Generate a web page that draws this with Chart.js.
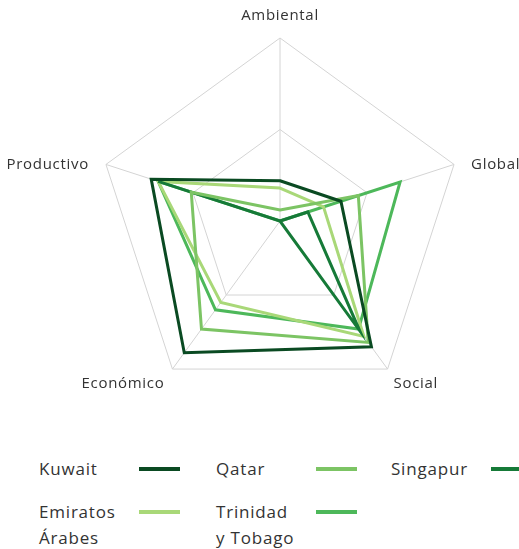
<!DOCTYPE html>
<html>
<head>
<meta charset="utf-8">
<script src="https://cdn.jsdelivr.net/npm/chart.js@4"></script>
<style>
  body { margin: 0; background: #fff; font-family: "Open Sans", sans-serif; color: #333; overflow: hidden; }
  #wrap { position: relative; width: 519px; height: 405px; }
  #legend { position: absolute; left: 39px; top: 456px; width: 520px; display: grid;
            grid-template-columns: 177px 175px 168px; row-gap: 17px; }
  .item { display: flex; align-items: flex-start; font-size: 17px; line-height: 26px; letter-spacing: 0.8px; }
  .item span.txt { width: 86px; margin-right: 14px; flex: none; }
  .item span.swatch { display: inline-block; width: 41px; height: 4px; margin-top: 11px; flex: none; }
</style>
</head>
<body>
<div id="wrap"><canvas id="radar"></canvas></div>
<div id="legend"></div>
<script>
// ejes del radar
const ejes = ['Ambiental', 'Global', 'Social', 'Económico', 'Productivo'];

// valores por país (0-100)
const kuwait   = [22, 35, 85, 89, 74];
const qatar    = [6, 45, 82, 73, 51];
const singapur = [0, 16, 74, 0, 70];
const emiratos = [18, 25, 78, 55, 70];
const trinidad = [0, 69, 73, 60, 70];

const paises = ['Kuwait', 'Qatar', 'Singapur', 'Emiratos Árabes', 'Trinidad y Tobago'];
const colores = ['#0a4a22', '#7cc464', '#167a38', '#a9d878', '#4db85a'];
const series = [kuwait, qatar, singapur, emiratos, trinidad];

// etiquetas de los ejes dibujadas a mano junto a cada vertice
const etiquetasEjes = {
    id: 'etiquetasEjes',
    afterDraw(chart) {
        const scale = chart.scales.r;
        const c = chart.ctx;
        // [desplazamiento x, desplazamiento y, alineacion]
        const ajustes = [[0, -22, 'center'], [17, 0, 'left'], [6, 15, 'left'], [-8, 15, 'right'], [-17, 0, 'right']];
        c.save();
        c.font = '15px "Open Sans"';
        c.letterSpacing = '0.7px';
        c.fillStyle = '#333';
        c.textBaseline = 'middle';
        chart.data.labels.forEach((txt, i) => {
            const p = scale.getPointPositionForValue(i, scale.max);
            const a = ajustes[i];
            c.textAlign = a[2];
            c.fillText(txt, p.x + a[0], p.y + a[1]);
        });
        c.restore();
    }
};

document.addEventListener("DOMContentLoaded", function() {
    const ctx = document.getElementById('radar').getContext('2d');
    const radar = new Chart(ctx, {
        type: 'radar',
        data: {
            labels: ejes,
            datasets: series.map((valores, i) => ({
                label: paises[i],
                data: valores,
                borderColor: colores[i],
                backgroundColor: 'transparent',
                borderWidth: 3,
                borderJoinStyle: 'miter',
                pointRadius: 0,
                fill: false
            }))
        },
        options: {
            responsive: true,
            maintainAspectRatio: false,
            animation: false,
            layout: { padding: { left: 41, right: 0, top: 38, bottom: 1 } },
            plugins: { legend: { display: false }, tooltip: { enabled: false } },
            scales: {
                r: {
                    min: 0,
                    max: 100,
                    ticks: { stepSize: 50, display: false },
                    grid: { color: '#d4d4d4', lineWidth: 1 },
                    angleLines: { color: '#d4d4d4', lineWidth: 1 },
                    pointLabels: { display: false }
                }
            }
        },
        plugins: [etiquetasEjes]
    });

    // leyenda propia: texto a la izquierda, linea a la derecha
    const legend = document.getElementById('legend');
    radar.data.datasets.forEach(ds => {
        const item = document.createElement('div');
        item.className = 'item';
        item.innerHTML = '<span class="txt">' + ds.label + '</span>' +
            '<span class="swatch" style="background:' + ds.borderColor + '"></span>';
        legend.appendChild(item);
    });
});
</script>
</body>
</html>
